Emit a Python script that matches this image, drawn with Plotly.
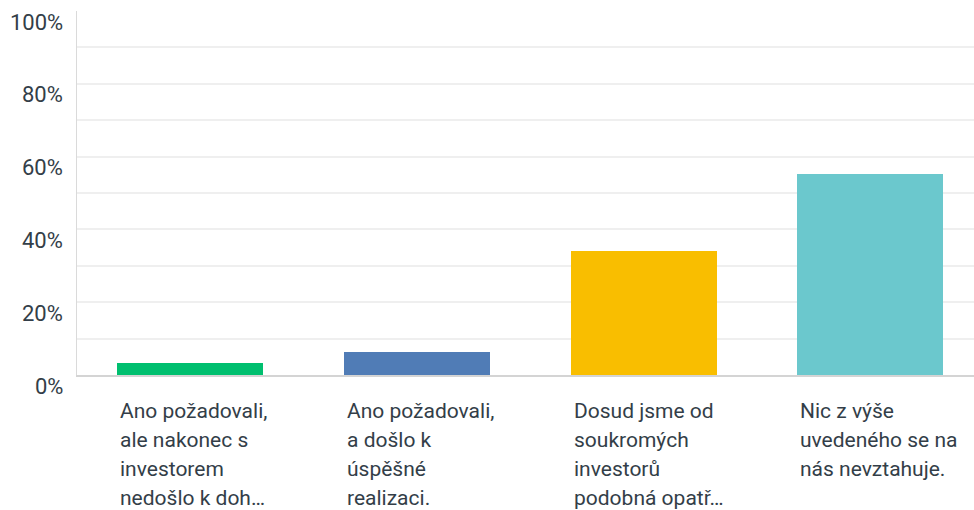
import plotly.graph_objects as go

categories = [
    "Ano požadovali,|ale nakonec s|investorem|nedošlo k doh…",
    "Ano požadovali,|a došlo k|úspěšné|realizaci.",
    "Dosud jsme od|soukromých|investorů|podobná opatř…",
    "Nic z výše|uvedeného se na|nás nevztahuje.",
]
values = [3.2, 6.2, 34.0, 55.2]
colors = ["#00bf6f", "#507cb6", "#f9be00", "#6bc8cd"]
y_tickvals = [0, 20, 40, 60, 80, 100]
y_ticktext = ["0%", "20%", "40%", "60%", "80%", "100%"]

FONT = "Roboto"
TXT = "#333e48"
BAR_W = 0.644

fig = go.Figure()
fig.add_trace(go.Bar(
    x=list(range(len(categories))),
    y=values,
    marker=dict(color=colors, line=dict(width=0)),
    width=BAR_W,
    hoverinfo="skip",
))

for i, cat in enumerate(categories):
    for j, line in enumerate(cat.split("|")):
        fig.add_annotation(
            x=i - BAR_W / 2, xref="x", y=0, yref="paper",
            text=line, showarrow=False, xanchor="left", yanchor="middle",
            xshift=1, yshift=-(36 + j * 29.0),
            font=dict(family=FONT, size=21, color=TXT),
        )

for v, t in zip(y_tickvals, y_ticktext):
    fig.add_annotation(
        x=0, xref="paper", y=v, yref="y", text=t, showarrow=False,
        xanchor="right", yanchor="middle", xshift=-12, yshift=-11,
        font=dict(family=FONT, size=22, color=TXT),
    )

fig.update_layout(
    width=974, height=510,
    margin=dict(l=77, r=0, t=11, b=135),
    plot_bgcolor="white", paper_bgcolor="white",
    showlegend=False,
    bargap=0,
)
fig.update_xaxes(
    range=[-0.5, 3.457], showticklabels=False, showgrid=False, zeroline=False,
    showline=True, linecolor="#d4d4d4", linewidth=2, ticks="", automargin=False,
)
fig.update_yaxes(
    range=[0, 100], dtick=10, showticklabels=False,
    showgrid=True, gridcolor="#efefef", gridwidth=2,
    zeroline=False, showline=True, linecolor="#dadada", linewidth=1,
    ticks="", automargin=False,
)

fig.write_html(
    "out.html",
    config={"displayModeBar": False},
    post_script="document.body.style.margin='0px';",
)
